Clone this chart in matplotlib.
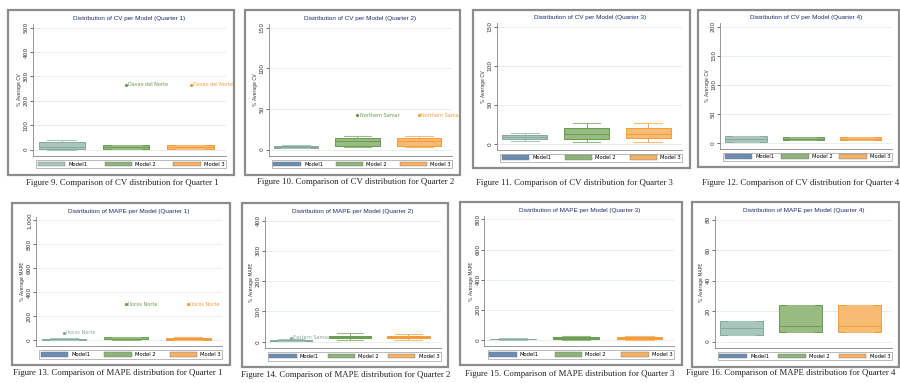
import matplotlib
matplotlib.use('Agg')
import matplotlib.pyplot as plt
from matplotlib.patches import Rectangle, Patch

models = ['Model1', 'Model 2', 'Model 3']

# CV box stats per quarter (rows) and model (cols)
cv_low = [[0, 1, 1], [1.5, 3, 3], [3, 2, 2], [1, 4, 4]]
cv_q1 = [[3, 3, 4], [2.5, 5, 5], [6.5, 6.5, 7], [2, 5, 5]]
cv_med = [[12, 10, 11], [3.5, 10, 10], [9, 12, 12], [6, 7, 7]]
cv_q3 = [[33, 19, 18], [5, 14, 14], [11.5, 20.5, 20], [11, 9.5, 9.5]]
cv_high = [[41, 20, 20], [6, 17, 17], [14, 26, 26], [12, 10, 10]]
cv_out = [[None, 265, 265], [None, 42, 42], [None, None, None], [None, None, None]]
cv_out_name = ['Davao del Norte', 'Northern Samar', '', '']
cv_ticks = [[0, 100, 200, 300, 400, 500], [0, 50, 100, 150],
            [0, 50, 100, 150], [0, 50, 100, 150, 200]]

# MAPE box stats
mape_low = [[0, 1, 1], [1, 5, 5], [1, 2, 2], [4, 6.4, 6.4]]
mape_q1 = [[2, 5, 4], [2, 11, 11], [3, 6, 6], [4.1, 6.4, 6.4]]
mape_med = [[5, 12, 10], [5, 15, 15], [6, 12, 12], [9.1, 10, 10]]
mape_q3 = [[10, 25, 20], [7, 20, 19], [9, 22, 22], [13.7, 24, 24]]
mape_high = [[15, 28, 24], [10, 28, 26], [12, 25, 25], [13.7, 24, 24]]
mape_out = [[60, 298, 298], [13, None, None], [None, None, None], [None, None, None]]
mape_out_name = ['Ilocos Norte', 'Eastern Samar', '', '']
mape_ticks = [[0, 200, 400, 600, 800, 1000], [0, 100, 200, 300, 400],
              [0, 200, 400, 600, 800], [0, 20, 40, 60, 80]]

box_fill = ['#a9c6bd', '#97bb80', '#f8bb73']
box_edge = ['#86aa9f', '#6b9b52', '#f39c3c']
legend_fill = ['#6a8cb5', '#8db479', '#f6b166']

W, H = 900, 383
fig = plt.figure(figsize=(9, 3.83), dpi=100)

# panel frames in pixels: left, top, right, bottom
frames = [(8, 10, 234, 175), (245, 10, 460, 175), (473, 10, 690, 168), (698, 10, 899, 167),
          (12, 203, 230, 365), (242, 203, 448, 367), (460, 202, 682, 365), (692, 202, 899, 367)]
captions = [(122, 183), (356, 182), (574, 183), (801, 183),
            (118, 373), (346, 375), (570, 374), (791, 373)]


def fx(x):
    return x / W


def fy(y):
    return 1 - y / H


def draw_panel(i, metric, q, low, q1, med, q3, high, out, out_name, ticks):
    fl, ft, fr, fb = frames[i]
    w = fr - fl
    h = fb - ft
    fig.patches.append(Rectangle((fx(fl), fy(fb)), fx(w), h / H, transform=fig.transFigure,
                                 fill=False, edgecolor='#8c8c8c', lw=1.6))
    al, ar = fl + 0.11 * w, fl + 0.965 * w
    at, ab = ft + 0.085 * h, ft + 0.885 * h
    ax = fig.add_axes([fx(al), fy(ab), fx(ar - al), (ab - at) / H])

    stats = []
    for m in range(3):
        stats.append(dict(whislo=low[m], q1=q1[m], med=med[m], q3=q3[m], whishi=high[m], fliers=[]))
    bp = ax.bxp(stats, positions=[1, 2, 3], widths=0.72, patch_artist=True,
                showfliers=False, capwidths=0.45)
    for m in range(3):
        bp['boxes'][m].set(facecolor=box_fill[m], edgecolor=box_edge[m], lw=0.7)
        bp['medians'][m].set(color=box_edge[m], lw=0.7)
        for k in (2 * m, 2 * m + 1):
            bp['whiskers'][k].set(color=box_edge[m], lw=0.6)
            bp['caps'][k].set(color=box_fill[m], lw=0.8)
        if out[m] is not None:
            ax.plot([m + 1], [out[m]], 'o', ms=1.3, color=box_edge[m])
            ax.annotate(out_name, (m + 1, out[m]), xytext=(1.5, 0), textcoords='offset points',
                        fontsize=3.5, color=box_edge[m], va='center', ha='left')

    top = ticks[-1]
    ax.set_ylim(-0.053 * top, top * 1.03)
    ax.set_xlim(0.55, 3.55)
    ax.set_yticks(ticks)
    ax.set_yticklabels([f'{t:,}' for t in ticks])
    ax.tick_params(axis='y', labelrotation=90, labelsize=4.2, length=2, width=0.5,
                   pad=1, colors='#333333')
    ax.tick_params(axis='x', bottom=False, labelbottom=False)
    for lab in ax.get_yticklabels():
        lab.set_va('center')
    ax.set_ylabel('% Average ' + metric, fontsize=3.3, labelpad=1, color='#333333')
    ax.yaxis.grid(True, color='#e0ece8', lw=0.6)
    ax.set_axisbelow(True)
    for s in ('top', 'right'):
        ax.spines[s].set_visible(False)
    for s in ('left', 'bottom'):
        ax.spines[s].set_color('#888888')
        ax.spines[s].set_linewidth(0.6)

    fig.text(fx((al + ar) / 2), fy(ft + 0.05 * h),
             f'Distribution of {metric} per Model (Quarter {q})',
             fontsize=4.6, color='#1f2f6b', ha='center', va='center', family='Liberation Sans')

    colors = list(legend_fill)
    if i == 0:
        colors[0] = box_fill[0]
    handles = [Patch(facecolor=c, edgecolor='#777777', lw=0.3) for c in colors]
    lx0, lx1 = fl + 0.125 * w, fl + 0.965 * w
    ly0, ly1 = ft + 0.9 * h, ft + 0.97 * h
    leg = ax.legend(handles, models, loc='center', ncol=3, mode='expand',
                    bbox_to_anchor=(fx(lx0), fy(ly1), fx(lx1 - lx0), (ly1 - ly0) / H),
                    bbox_transform=fig.transFigure, fontsize=3.8, handlelength=5.2,
                    handleheight=1.0, borderpad=0.3, handletextpad=0.6, frameon=True,
                    fancybox=False, borderaxespad=0)
    leg.get_frame().set_edgecolor('#999999')
    leg.get_frame().set_linewidth(0.6)

    cx, cy = captions[i]
    fig.text(fx(cx), fy(cy), f'Figure {9 + i}. Comparison of {metric} distribution for Quarter {q}',
             fontsize=6.3, family='Liberation Serif', color='#222222', ha='center', va='center')


for q in range(4):
    draw_panel(q, 'CV', q + 1, cv_low[q], cv_q1[q], cv_med[q], cv_q3[q], cv_high[q],
               cv_out[q], cv_out_name[q], cv_ticks[q])
for q in range(4):
    draw_panel(4 + q, 'MAPE', q + 1, mape_low[q], mape_q1[q], mape_med[q], mape_q3[q],
               mape_high[q], mape_out[q], mape_out_name[q], mape_ticks[q])

fig.savefig('out.png', dpi=100)
